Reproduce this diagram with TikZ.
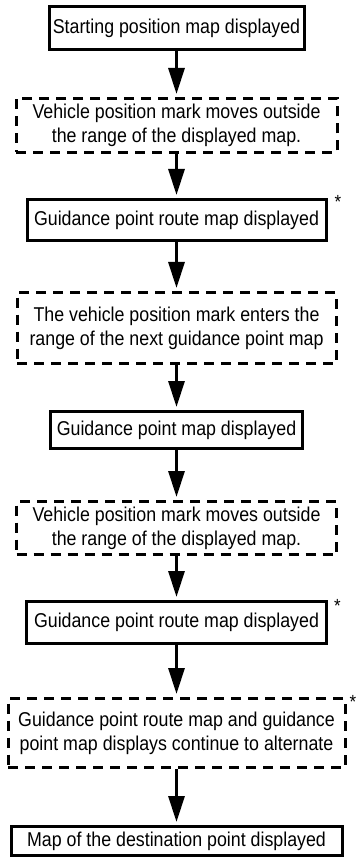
\documentclass[tikz,border=0pt]{standalone}
\usepackage{fontspec}
\setmainfont{Liberation Sans}[FakeStretch=0.89]
\usetikzlibrary{arrows.meta,positioning}

\begin{document}
\begin{tikzpicture}[
    x=1pt, y=-1pt,
    solidbox/.style={rectangle, draw, line width=3pt, align=center, inner sep=0pt,
        font=\fontsize{20}{24}\selectfont},
    dashbox/.style={solidbox, dash pattern=on 10pt off 7pt},
    flow/.style={-{Triangle[length=26pt, width=16pt]}, line width=3pt, shorten >=3pt},
    star/.style={anchor=north west, inner sep=0pt, font=\fontsize{19}{19}\selectfont}
]
\useasboundingbox (0,0) rectangle (361,858);
\node[solidbox, minimum width=255pt, minimum height=43pt] (start) at (176.5,28) {Starting position map displayed};
\node[dashbox, minimum width=321pt, minimum height=54pt, below=46pt of start] (leave1) {Vehicle position mark moves outside\\the range of the displayed map.};
\node[solidbox, minimum width=299pt, minimum height=41pt, below=44pt of leave1] (route1) {Guidance point route map displayed};
\node[dashbox, minimum width=319pt, minimum height=71pt, below=49pt of route1] (enter) {The vehicle position mark enters the\\range of the next guidance point map};
\node[solidbox, minimum width=252pt, minimum height=37pt, below=45pt of enter] (gpoint) {Guidance point map displayed};
\node[dashbox, minimum width=320pt, minimum height=53pt, below=50pt of gpoint] (leave2) {Vehicle position mark moves outside\\the range of the displayed map.};
\node[solidbox, minimum width=300pt, minimum height=42pt, below=44pt of leave2] (route2) {Guidance point route map displayed};
\node[dashbox, minimum width=337pt, minimum height=69pt, below=52pt of route2] (alter) {Guidance point route map and guidance\\point map displays continue to alternate};
\node[solidbox, minimum width=331pt, minimum height=29pt, below=56pt of alter] (dest) {Map of the destination point displayed};

% asterisks
\node[star] (star1) at ([shift={(7,-3)}]route1.north east) {*};
\node[star] (star2) at ([shift={(6,-1)}]route2.north east) {*};
\node[star] (star3) at ([shift={(3,-2)}]alter.north east) {*};

\draw[flow] (start) -- (leave1);
\draw[flow] (leave1) -- (route1);
\draw[flow] (route1) -- (enter);
\draw[flow] (enter) -- (gpoint);
\draw[flow] (gpoint) -- (leave2);
\draw[flow] (leave2) -- (route2);
\draw[flow] (route2) -- (alter);
\draw[flow] (alter) -- (dest);
\end{tikzpicture}
\end{document}
